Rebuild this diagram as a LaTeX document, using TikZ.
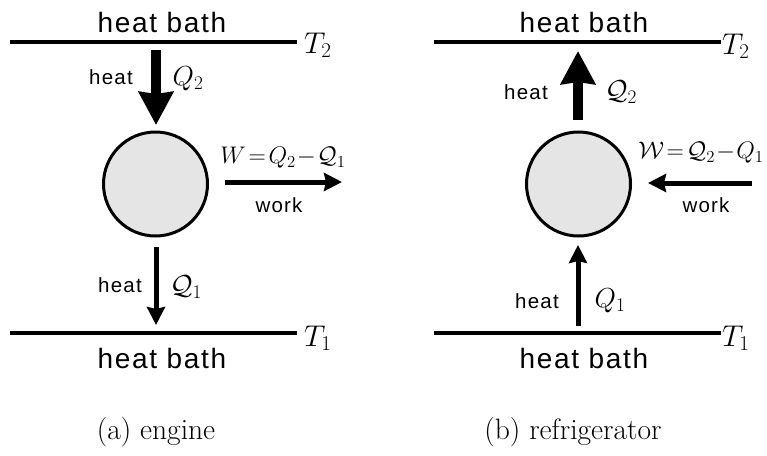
\RequirePackage{fix-cm}
\documentclass[tikz,border=0pt]{standalone}
\usepackage{fontspec}
\usetikzlibrary{arrows.meta}
\newfontfamily\labfont[LetterSpace=6]{Liberation Sans}
\tikzset{
  bath/.style={line width=4pt},
  engine/.style={circle, draw=black, line width=3pt, fill=black!10, minimum size=104pt, inner sep=0pt},
  bigarrow/.style={line width=9.5pt, -{Stealth[length=33pt,width=34pt,inset=2pt]}},
  smallarrow/.style={line width=5pt, -{Stealth[length=18pt,width=18pt,inset=2pt]}},
  bigtext/.style={inner sep=0pt, font=\labfont\fontsize{28}{33}\selectfont},
  smalltext/.style={inner sep=0pt, font=\labfont\fontsize{20.5}{24}\selectfont},
  mathbig/.style={inner sep=0pt, font=\fontsize{30}{35}\selectfont},
  mathmid/.style={inner sep=0pt, font=\fontsize{27.5}{32}\selectfont},
  mathform/.style={inner sep=0pt, font=\fontsize{24}{28}\selectfont},
  captext/.style={inner sep=0pt, font=\fontsize{29.5}{35}\selectfont},
}
\begin{document}
\begin{tikzpicture}[x=1pt,y=-1pt]
\useasboundingbox (0,0) rectangle (767,455);

% ---------- (a) engine ----------
\coordinate (aTL) at (10,42);
\coordinate (aTR) at (297,42);
\coordinate (aBL) at (10,333);
\coordinate (aBR) at (297,333);
\draw[bath] (aTL) -- (aTR);
\draw[bath] (aBL) -- (aBR);
\node[bigtext] (abathT) at (162,22) {heat bath};
\node[bigtext] (abathB) at (162,358) {heat bath};
\node[mathbig, anchor=west] (aT2) at (304,45) {$T_2$};
\node[mathbig, anchor=west] (aT1) at (304,338) {$T_1$};

\node[engine] (c1) at (155.5,184) {};

\coordinate (aq2s) at (156,50);
\coordinate (aq2e) at (156,125);
\draw[bigarrow] (aq2s) -- (aq2e);
\node[smalltext] (aheat2) at (111,77) {heat};
\node[mathmid] (aQ2) at (188,79) {$Q_2$};

\coordinate (aws) at (225,182);
\coordinate (awe) at (342,182);
\draw[smallarrow] (aws) -- (awe);
\node[mathform] (aW) at (283,158) {$W\!=\!Q_2\!-\!\mathcal{Q}_1$};
\node[smalltext] (awork) at (279,205) {work};

\coordinate (aq1s) at (156,247);
\coordinate (aq1e) at (156,325);
\draw[smallarrow] (aq1s) -- (aq1e);
\node[smalltext] (aheat1) at (120,285) {heat};
\node[mathmid] (aQ1) at (186,287) {$\mathcal{Q}_1$};

\node[captext] (acap) at (156,432) {(a) engine};

% ---------- (b) refrigerator ----------
\coordinate (bTL) at (434,42);
\coordinate (bTR) at (721,42);
\coordinate (bBL) at (434,333);
\coordinate (bBR) at (721,333);
\draw[bath] (bTL) -- (bTR);
\draw[bath] (bBL) -- (bBR);
\node[bigtext] (bbathT) at (584,22) {heat bath};
\node[bigtext] (bbathB) at (584,358) {heat bath};
\node[mathbig, anchor=west] (bT2) at (722,46) {$T_2$};
\node[mathbig, anchor=west] (bT1) at (722,338) {$T_1$};

\node[engine] (c2) at (578.5,184) {};

\coordinate (bq2s) at (578,120);
\coordinate (bq2e) at (578,51);
\draw[bigarrow] (bq2s) -- (bq2e);
\node[smalltext] (bheat2) at (526,92) {heat};
\node[mathmid] (bQ2) at (621,92) {$\mathcal{Q}_2$};

\coordinate (bws) at (752,183);
\coordinate (bwe) at (648,183);
\draw[smallarrow] (bws) -- (bwe);
\node[mathform] (bW) at (701,153) {$\mathcal{W}\!=\!\mathcal{Q}_2\!-\!Q_1$};
\node[smalltext] (bwork) at (706,205) {work};

\coordinate (bq1s) at (578,326);
\coordinate (bq1e) at (578,245);
\draw[smallarrow] (bq1s) -- (bq1e);
\node[smalltext] (bheat1) at (537,301) {heat};
\node[mathmid] (bQ1) at (610,301) {$Q_1$};

\node[captext] (bcap) at (573,432) {(b) refrigerator};
\end{tikzpicture}
\end{document}
